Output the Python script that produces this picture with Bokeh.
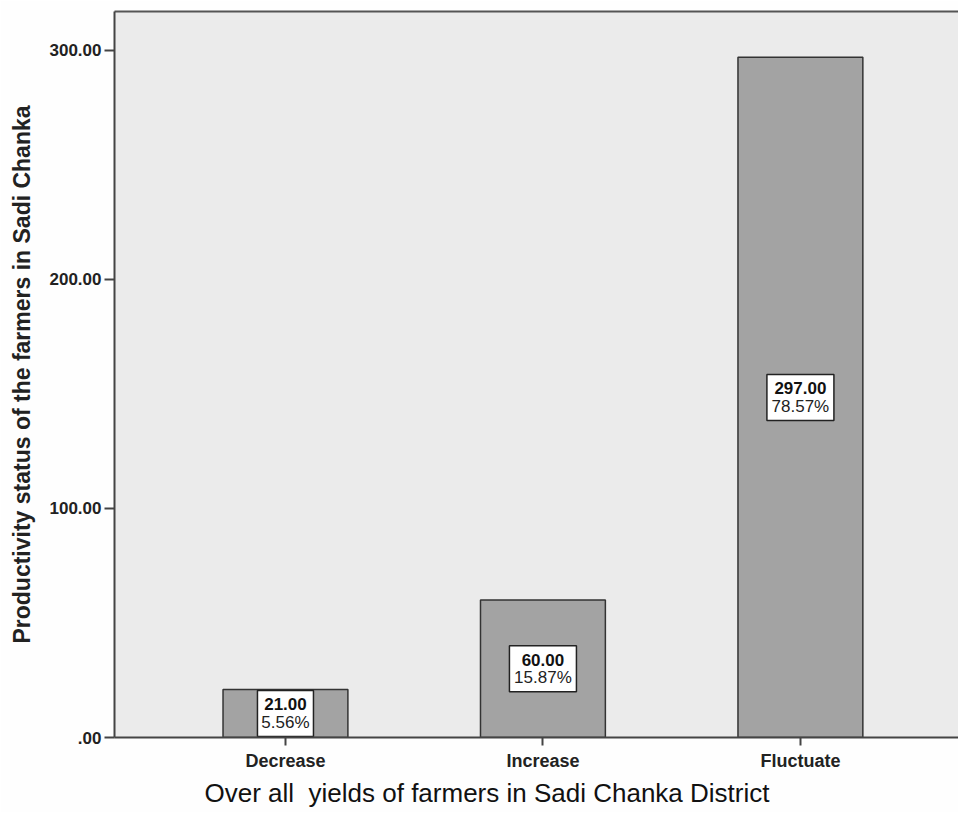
from bokeh.plotting import figure
from bokeh.models import Range1d, FixedTicker, LinearAxis, ColumnDataSource, Title
from bokeh.core.properties import value
from bokeh.embed import file_html
from bokeh.resources import INLINE

categories = ["Decrease", "Increase", "Fluctuate"]
counts = [21.00, 60.00, 297.00]
percents = [5.56, 15.87, 78.57]
y_ticks = [0, 100, 200, 300]
y_tick_labels = [".00", "100.00", "200.00", "300.00"]
x_title = "Over all\u00a0 yields of farmers in Sadi Chanka District"
y_title = "Productivity status of the farmers in Sadi Chanka"

FONT = "'Liberation Sans', Arial, sans-serif"

xs = list(range(len(categories)))
count_txt = [f"{c:.2f}" for c in counts]
pct_txt = [f"{p:.2f}%" for p in percents]
mid = [c / 2 for c in counts]
box_w = [11 * max(len(a), len(b)) + 1 for a, b in zip(count_txt, pct_txt)]

src = ColumnDataSource(dict(x=xs, top=counts, mid=mid, ct=count_txt, pt=pct_txt, bw=box_w))

p = figure(width=958, height=812, output_backend="svg", toolbar_location=None,
           x_range=Range1d(-0.664, 2.614), y_range=Range1d(0, 317))
p.min_border_left = 114
p.min_border_right = 0
p.min_border_top = 11
p.min_border_bottom = 75
p.background_fill_color = "#ebebeb"
p.border_fill_color = "#fefefe"
p.outline_line_color = None
p.grid.visible = False

p.vbar(x="x", top="top", bottom=0, width=0.485, source=src,
       fill_color="#a3a3a3", line_color="#333333", line_width=1.5)

p.rect(x="x", y="mid", width="bw", height=46, width_units="screen", height_units="screen",
       source=src, fill_color="white", line_color="#222222", line_width=1.5)
p.text(x="x", y="mid", text="ct", source=src, text_align="center", text_baseline="middle",
       y_offset=-9, text_font=value(FONT), text_font_style="bold", text_font_size="17px",
       text_color="#111111")
p.text(x="x", y="mid", text="pt", source=src, text_align="center", text_baseline="middle",
       y_offset=9, text_font=value(FONT), text_font_size="17px", text_color="#222222")

# x axis
xa = p.xaxis[0]
xa.ticker = FixedTicker(ticks=xs)
xa.major_label_overrides = {i: c for i, c in zip(xs, categories)}
xa.axis_line_color = "#444444"
xa.axis_line_width = 2
xa.major_tick_line_color = "#444444"
xa.major_tick_line_width = 2
xa.major_tick_in = 0
xa.major_tick_out = 8
xa.minor_tick_line_color = None
xa.major_label_text_font = FONT
xa.major_label_text_font_style = "bold"
xa.major_label_text_font_size = "18px"
xa.major_label_text_color = "#222222"
xa.major_label_standoff = 5

# x title, placed to sit centred on the page rather than on the frame
p.add_layout(Title(text=x_title, align="left", offset=90, standoff=4,
                   text_font=FONT, text_font_style="normal", text_font_size="26px",
                   text_color="#111111"), "below")

ya = p.yaxis[0]
ya.ticker = FixedTicker(ticks=y_ticks)
ya.major_label_overrides = {t: l for t, l in zip(y_ticks, y_tick_labels)}
ya.axis_line_color = "#444444"
ya.axis_line_width = 2
ya.major_tick_line_color = "#444444"
ya.major_tick_line_width = 2
ya.major_tick_in = 0
ya.major_tick_out = 10
ya.minor_tick_line_color = None
ya.major_label_text_font = FONT
ya.major_label_text_font_style = "bold"
ya.major_label_text_font_size = "17px"
ya.major_label_text_color = "#222222"
ya.major_label_standoff = 3
ya.axis_label = y_title
ya.axis_label_text_font = FONT
ya.axis_label_text_font_style = "bold"
ya.axis_label_text_font_size = "23px"
ya.axis_label_text_color = "#222222"
ya.axis_label_standoff = 12

top_ax = LinearAxis(ticker=FixedTicker(ticks=[]), axis_line_color="#555555", axis_line_width=2,
                    major_tick_line_color=None, minor_tick_line_color=None,
                    major_label_text_font_size="0px")
p.add_layout(top_ax, "above")

open("out.html", "w").write(file_html(p, INLINE))
